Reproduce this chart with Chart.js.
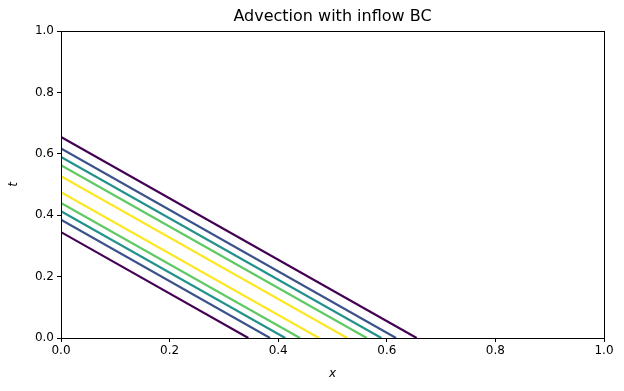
<!DOCTYPE html>
<html>
<head>
<meta charset="utf-8">
<script src="https://cdn.jsdelivr.net/npm/chart.js@4"></script>
<style>
  html, body { margin: 0; padding: 0; background: #fff; }
  #wrap { width: 624px; height: 391px; }
</style>
</head>
<body>
<div id="wrap"><canvas id="advChart"></canvas></div>
<script>
// contour intercepts (x = t on the axes), outermost to innermost and back
const levels = [0.345, 0.385, 0.413, 0.44, 0.475, 0.527, 0.563, 0.59, 0.617, 0.655];
const lineColors = ['#440154', '#3b528b', '#21918c', '#5ec962', '#fde725',
                    '#fde725', '#5ec962', '#21918c', '#3b528b', '#440154'];
const tickValues = [0, 0.2, 0.4, 0.6, 0.8, 1.0];

const datasets = levels.map((c, i) => ({
  data: [{ x: 0, y: c }, { x: c, y: 0 }],
  borderColor: lineColors[i],
  borderWidth: 2.2,
  pointRadius: 0,
  showLine: true,
  fill: false
}));

const framePlugin = {
  id: 'frame',
  afterDraw(chart) {
    const { ctx, chartArea: a } = chart;
    ctx.save();
    ctx.strokeStyle = '#000';
    ctx.lineWidth = 1;
    ctx.strokeRect(a.left + 0.5, a.top + 0.5, a.right - a.left, a.bottom - a.top);
    ctx.fillStyle = '#000';
    ctx.textAlign = 'center';
    ctx.textBaseline = 'middle';
    ctx.font = '16px "DejaVu Sans"';
    ctx.fillText('Advection with inflow BC', (a.left + a.right) / 2, 17);
    ctx.font = 'italic 12px "DejaVu Sans"';
    ctx.fillText('x', (a.left + a.right) / 2, 374);
    ctx.translate(14, (a.top + a.bottom) / 2);
    ctx.rotate(-Math.PI / 2);
    ctx.fillText('t', 0, 0);
    ctx.restore();
  }
};

const tickFont = { family: 'DejaVu Sans', size: 12 };

new Chart(document.getElementById('advChart').getContext('2d'), {
  type: 'scatter',
  data: { datasets },
  options: {
    responsive: true,
    maintainAspectRatio: false,
    animation: false,
    layout: { padding: { left: 0, right: 20, top: 31, bottom: 0 } },
    plugins: { legend: { display: false }, tooltip: { enabled: false } },
    scales: {
      x: {
        type: 'linear', min: 0, max: 1,
        afterBuildTicks: s => { s.ticks = tickValues.map(v => ({ value: v })); },
        afterFit: s => { s.height = 53; },
        ticks: { color: '#000', font: tickFont, padding: 2, maxRotation: 0, callback: v => v.toFixed(1) },
        grid: { drawOnChartArea: false, tickLength: 4, color: '#000' },
        border: { color: '#000' }
      },
      y: {
        type: 'linear', min: 0, max: 1,
        afterBuildTicks: s => { s.ticks = tickValues.map(v => ({ value: v })); },
        afterFit: s => { s.width = 61; },
        ticks: { color: '#000', font: tickFont, padding: 3, callback: v => v.toFixed(1) },
        grid: { drawOnChartArea: false, tickLength: 4, color: '#000' },
        border: { color: '#000' }
      }
    }
  },
  plugins: [framePlugin]
});
</script>
</body>
</html>
